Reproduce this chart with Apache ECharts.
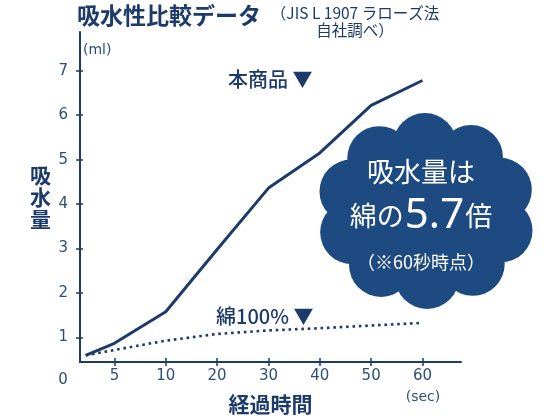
<!DOCTYPE html>
<html><head><meta charset="utf-8">
<script src="https://cdn.jsdelivr.net/npm/echarts@6/dist/echarts.min.js"></script>
<style>html,body{margin:0;padding:0;background:#fff}#c{width:560px;height:420px}</style>
</head><body><div id="c"></div>
<script>
const categories = ['0','5','10','20','30','40','50','60'];
const xPositions = [0.44, 1, 2, 3, 4, 5, 6, 7];
const productValues = [0.60, 0.87, 1.58, 2.98, 4.36, 5.15, 6.22, 6.78];
const cottonValues = [0.60, 0.72, 0.93, 1.08, 1.16, 1.21, 1.27, 1.33];
const yTickValues = [1, 2, 3, 4, 5, 6, 7];
const xTickValues = [1, 2, 3, 4, 5, 6, 7];

const NAVY = '#1c3b6a';
const CLOUD = '#1e4a82';
const LABEL = '#2e4f78';
const JP = '"Noto Sans CJK JP", sans-serif';
const NUM = '"DejaVu Sans", sans-serif';

const chart = echarts.init(document.getElementById('c'), null, {renderer: 'canvas'});

const yMin = 0.45, yMax = 7.87, xMin = 0.33, xMax = 7.75;

const baseX = {type: 'value', min: xMin, max: xMax, splitLine: {show: false}};
const baseY = {type: 'value', min: yMin, max: yMax, splitLine: {show: false}};

// cloud lobes
const cloudCx = 426, cloudCy = 211;
const lobes = [];
for (let i = 0; i < 10; i++) {
  const a = (i / 10) * Math.PI * 2 + 0.3;
  lobes.push({
    type: 'circle', z: 10,
    shape: {cx: cloudCx + 78 * Math.cos(a), cy: cloudCy + 66 * Math.sin(a), r: 32},
    style: {fill: CLOUD}
  });
}
lobes.push({type: 'ellipse', z: 10, shape: {cx: cloudCx, cy: cloudCy, rx: 86, ry: 74}, style: {fill: CLOUD}});

const option = {
  backgroundColor: '#fff',
  animation: false,
  grid: {left: 80, right: 99, top: 32, bottom: 54},
  xAxis: [
    Object.assign({}, baseX, {
      axisLine: {show: true, lineStyle: {color: NAVY, width: 2}},
      axisTick: {show: true, inside: false, length: 4, customValues: xTickValues, lineStyle: {color: NAVY, width: 1.5}},
      axisLabel: {
        show: true, margin: 7, customValues: xTickValues, color: LABEL,
        fontFamily: NUM, fontSize: 15,
        formatter: v => categories[Math.round(v)]
      },
      name: '経過時間', nameLocation: 'middle', nameGap: 32,
      nameTextStyle: {color: NAVY, fontFamily: JP, fontWeight: 'bold', fontSize: 21}
    }),
    Object.assign({}, baseX, {
      gridIndex: 0, position: 'bottom',
      axisLine: {show: false},
      axisTick: {show: true, inside: true, length: 4, customValues: xTickValues, lineStyle: {color: NAVY, width: 1.5}},
      axisLabel: {show: false}
    })
  ],
  yAxis: [
    Object.assign({}, baseY, {
      axisLine: {show: true, lineStyle: {color: NAVY, width: 2}},
      axisTick: {show: true, inside: false, length: 4, customValues: yTickValues, lineStyle: {color: NAVY, width: 1.5}},
      axisLabel: {show: true, margin: 12, customValues: yTickValues, color: LABEL, fontFamily: NUM, fontSize: 15},
      name: '吸\n水\n量', nameLocation: 'middle', nameRotate: 0, nameGap: 29,
      nameTextStyle: {color: NAVY, fontFamily: JP, fontWeight: 'bold', fontSize: 21, lineHeight: 22}
    }),
    Object.assign({}, baseY, {
      position: 'left',
      axisLine: {show: false},
      axisTick: {show: true, inside: true, length: 3, customValues: yTickValues, lineStyle: {color: NAVY, width: 1.5}},
      axisLabel: {show: false}
    })
  ],
  series: [
    {
      name: '本商品', type: 'line', symbol: 'none',
      data: xPositions.map((x, i) => [x, productValues[i]]),
      lineStyle: {color: NAVY, width: 3}, z: 3
    },
    {
      name: '綿100%', type: 'line', symbol: 'none',
      data: xPositions.map((x, i) => [x, cottonValues[i]]),
      lineStyle: {color: NAVY, width: 2.6, type: [2.6, 3.8]}, z: 3
    }
  ],
  graphic: [
    {type: 'text', x: 77, y: 15, style: {text: '吸水性比較データ', fill: NAVY, font: 'bold 23px ' + JP, verticalAlign: 'middle'}},
    {type: 'text', x: 355, y: 5, style: {text: '（JIS L 1907 ラローズ法\n自社調べ）', fill: NAVY, font: '15.5px ' + JP, lineHeight: 17, align: 'center', verticalAlign: 'top'}},
    {type: 'text', x: 83, y: 50, style: {text: '(ml)', fill: LABEL, font: '14px ' + NUM, verticalAlign: 'middle'}},
    {type: 'text', x: 423, y: 397, style: {text: '(sec)', fill: LABEL, font: '14px ' + NUM, align: 'center', verticalAlign: 'middle'}},
    {type: 'text', x: 228, y: 79, style: {text: '本商品 ▼', fill: NAVY, font: '500 20px ' + JP, verticalAlign: 'middle'}},
    {type: 'text', x: 216, y: 316, style: {text: '綿100% ▼', fill: NAVY, font: '500 20px ' + JP, verticalAlign: 'middle'}},
    ...lobes,
    {type: 'text', z: 11, x: 421, y: 172, style: {text: '吸水量は', fill: '#fff', font: '27px ' + JP, align: 'center', verticalAlign: 'middle'}},
    {type: 'text', z: 11, x: 421, y: 216, style: {
      text: '{a|綿の}{b|5.7}{a|倍}', fill: '#fff', align: 'center', verticalAlign: 'middle',
      rich: {
        a: {fontSize: 27, fontFamily: JP, fill: '#fff'},
        b: {fontSize: 42, fontFamily: '"Noto Sans", sans-serif', fill: '#fff', padding: [0, 1, 0, 1]}
      }
    }},
    {type: 'text', z: 11, x: 421, y: 262, style: {text: '（※60秒時点）', fill: '#fff', font: '18px ' + JP, align: 'center', verticalAlign: 'middle'}}
  ]
};
chart.setOption(option);

// "0" tick label at category index 0, left of the y axis
const zeroX = chart.convertToPixel({xAxisIndex: 0}, 0);
chart.setOption({
  graphic: option.graphic.concat([
    {type: 'text', x: zeroX, y: 373, style: {text: categories[0], fill: LABEL, font: '15px ' + NUM, align: 'center', verticalAlign: 'top'}}
  ])
});
</script></body></html>
